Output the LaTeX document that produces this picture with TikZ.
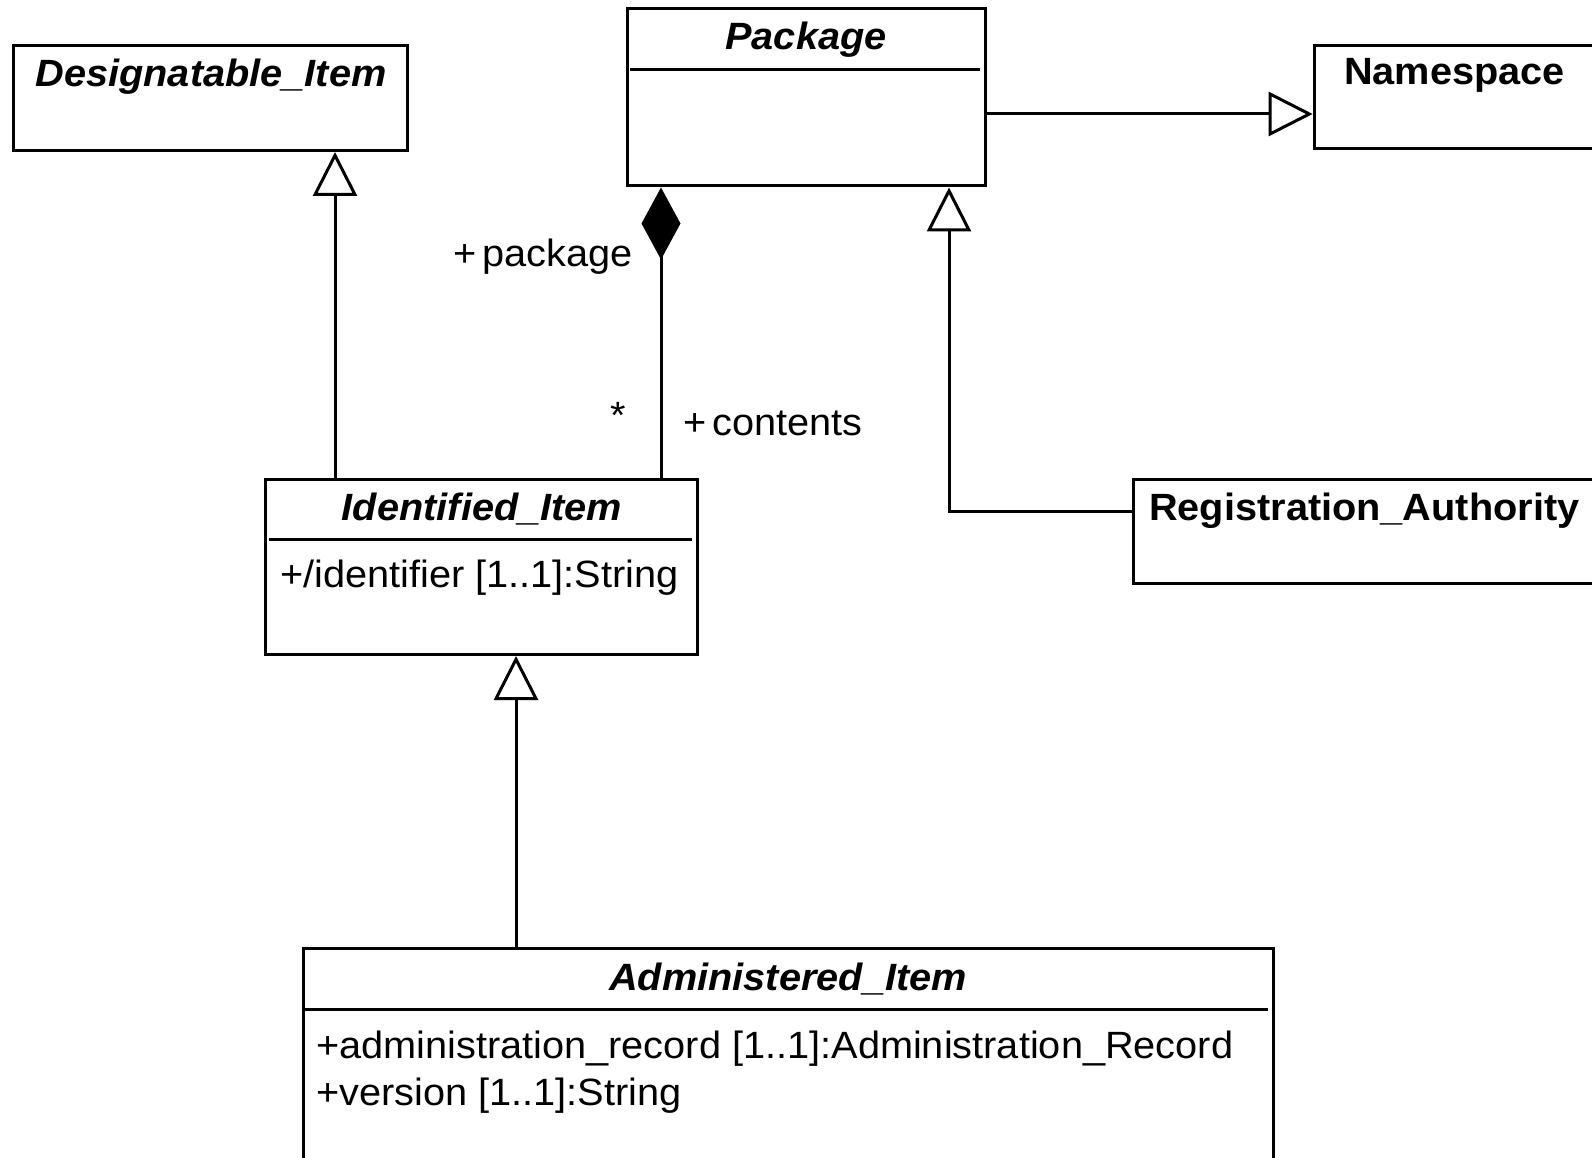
\documentclass[tikz,border=0pt]{standalone}
\usepackage{fontspec}
\setmainfont{Liberation Sans}[FakeStretch=1.045]
\usetikzlibrary{arrows.meta}
\tikzset{
  cls/.style={draw, line width=3pt, rectangle, anchor=north west, inner sep=0pt},
  txt/.style={inner sep=0pt, font=\fontsize{38}{46}\selectfont},
  ttl/.style={txt, font=\fontsize{38}{46}\selectfont\bfseries\itshape},
  ttlb/.style={txt, font=\fontsize{38}{46}\selectfont\bfseries},
  divider/.style={line width=3pt},
  conn/.style={line width=3pt},
  gen/.style={conn, -{Triangle[open, length=44pt, width=44pt]}},
  comp/.style={conn, -{Diamond[length=72pt, width=39pt]}}
}
\begin{document}
\begin{tikzpicture}[x=1pt,y=-1pt]
\useasboundingbox (0,0) rectangle (1592,1158);
\clip (0,0) rectangle (1592,1158);
% classes
\node[cls, minimum width=394pt, minimum height=105pt] (des) at (12,44) {};
\node[ttl, anchor=base] (desT) at (211,87) {Designatable\_Item};

\node[cls, minimum width=358pt, minimum height=177pt] (pkg) at (626,7.5) {};
\node[ttl, anchor=base] (pkgT) at (806,50) {Package};
\draw[divider] (630,69.5) -- (980,69.5);

\node[cls, minimum width=320pt, minimum height=103pt] (ns) at (1312.7,44) {};
\node[ttlb, anchor=base west] (nsT) at (1344,85) {Namespace};

\node[cls, minimum width=500pt, minimum height=104pt] (ra) at (1131.7,478) {};
\node[ttlb, anchor=base west] (raT) at (1149,520) {Registration\_Authority};

\node[cls, minimum width=432pt, minimum height=175pt] (ident) at (264,478) {};
\node[ttl, anchor=base] (identT) at (482,520) {Identified\_Item};
\draw[divider] (269,539) -- (692,539);
\node[txt, anchor=base west] (identA) at (280,587) {+/identifier [1..1]:String};

\node[cls, minimum width=970.5pt, minimum height=240pt] (adm) at (301.5,947) {};
\node[ttl, anchor=base] (admT) at (788,990) {Administered\_Item};
\draw[divider] (305,1009) -- (1268,1009);
\node[txt, anchor=base west] (admA1) at (316,1058) {+administration\_record [1..1]:Administration\_Record};
\node[txt, anchor=base west] (admA2) at (316,1105) {+version [1..1]:String};

% connectors
\draw[gen] ([xshift=71pt]ident.north west) -- ([xshift=71pt]ident.north west |- des.south);
\draw[comp] ([xshift=397pt]ident.north west) -- ([xshift=397pt]ident.north west |- pkg.south);
\draw[gen] ([yshift=-33pt]ra.north west) -| ([xshift=323pt]pkg.south west);
\draw[gen] ([yshift=-106.5pt]pkg.north east) -- ([yshift=-106.5pt]pkg.north east -| ns.west);
\draw[gen] ([xshift=214.5pt]adm.north west) -- ([xshift=214.5pt]adm.north west |- ident.south);

% role labels
\node[txt, anchor=base west] (lpkg) at (453,266) {+\,package};
\node[txt, anchor=base west] (lmul) at (610,428) {*};
\node[txt, anchor=base west] (lcont) at (683,435) {+\,contents};
\end{tikzpicture}
\end{document}
